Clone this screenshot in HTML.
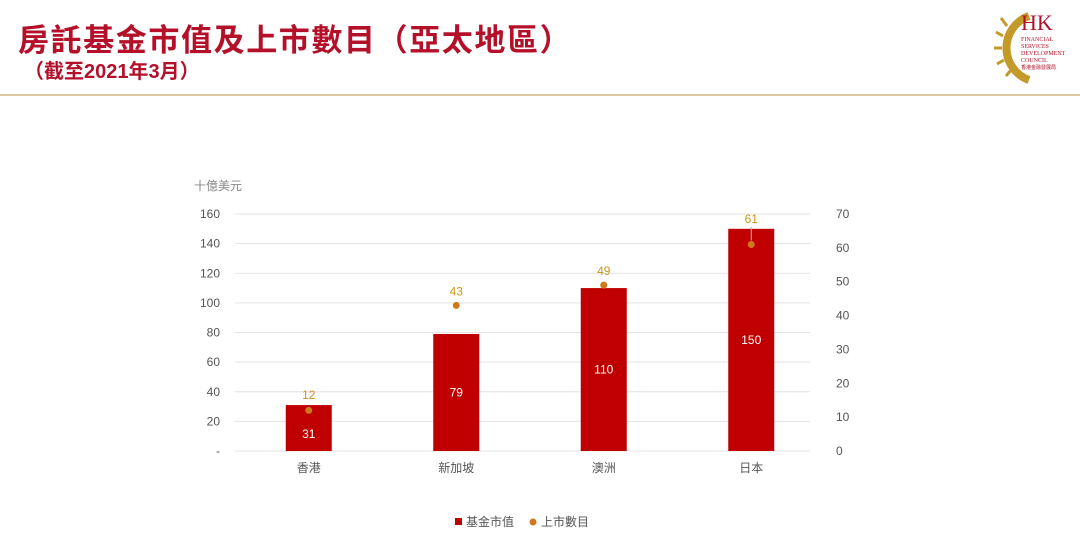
<!DOCTYPE html>
<html><head><meta charset="utf-8">
<style>
body{margin:0;width:1080px;height:553px;background:#fff;position:relative;overflow:hidden;font-family:"Liberation Sans","Noto Sans CJK TC",sans-serif}
.t{position:absolute;color:#b5102a;font-weight:bold;white-space:nowrap}
</style></head><body>
<div class="t" style="left:18px;top:15px;font-size:31px;letter-spacing:1.6px">房託基金市值及上市數目（亞太地區）</div>
<div class="t" style="left:24px;top:55px;font-size:20px">（截至2021年3月）</div>
<div style="position:absolute;left:0;top:94px;width:1080px;height:2px;background:#dcc89a"></div>
<div style="position:absolute;left:993px;top:6px;width:87px;height:78px">
<svg width="87" height="78"><path d="M36 10 A34 34 0 0 0 36 74" fill="none" stroke="#c39a2a" stroke-width="8"/>
<path d="M14 20 L8 12 M10 30 L3 26 M9 42 L1 42 M11 54 L4 58 M18 64 L13 70" stroke="#c39a2a" stroke-width="3"/>
<text x="28" y="24" font-family="Liberation Serif" font-size="22" fill="#b5102a">HK</text>
<text x="28" y="35" font-family="Liberation Serif" font-size="6" fill="#b5102a">FINANCIAL</text>
<text x="28" y="42" font-family="Liberation Serif" font-size="6" fill="#b5102a">SERVICES</text>
<text x="28" y="49" font-family="Liberation Serif" font-size="6" fill="#b5102a">DEVELOPMENT</text>
<text x="28" y="56" font-family="Liberation Serif" font-size="6" fill="#b5102a">COUNCIL</text>
<text x="28" y="63" font-size="5" fill="#b5102a">香港金融發展局</text></svg></div>
<svg id="c" width="1080" height="553" style="position:absolute;left:0;top:0"></svg>
<script>
const categories=["香港","新加坡","澳洲","日本"];
const marketCap=[31,79,110,150];
const listings=[12,43,49,61];
const leftTicks=[0,20,40,60,80,100,120,140,160];
const rightTicks=[0,10,20,30,40,50,60,70];
const svg=document.getElementById('c');const NS='http://www.w3.org/2000/svg';
const x0=235,x1=825,y0=451,y1=214,band=(x1-x0)/categories.length;
const yL=v=>y0-(v/160)*(y0-y1), yR=v=>y0-(v/70)*(y0-y1), xc=i=>x0+band*(i+0.5);
function el(t,a,txt){const e=document.createElementNS(NS,t);for(const k in a)e.setAttribute(k,a[k]);if(txt!==undefined)e.textContent=txt;svg.appendChild(e);return e;}
const ff='"Liberation Sans","Noto Sans CJK TC",sans-serif';
leftTicks.forEach(v=>{let g=el('line',{x1:x0,x2:x1-15,y1:yL(v),y2:yL(v),stroke:'#e3e3e3'});
let t=el('text',{x:220,y:yL(v)+4,'text-anchor':'end','font-size':12,fill:'#555','font-family':ff},v===0?'-':v);});
rightTicks.forEach(v=>{let t=el('text',{x:836,y:yR(v)+4,'font-size':12,fill:'#555','font-family':ff},v);});
let ut=el('text',{x:194,y:190,'font-size':12,fill:'#888','font-family':ff},'十億美元');
categories.forEach((c,i)=>{
let b=el('rect',{x:xc(i)-23,y:yL(marketCap[i]),width:46,height:y0-yL(marketCap[i]),fill:'#c00000'});
let bl=el('text',{x:xc(i),y:(yL(marketCap[i])+y0)/2+4+ (i==0?6:0),'text-anchor':'middle','font-size':12,fill:'#fff','font-family':ff},marketCap[i]);
let cl=el('text',{x:xc(i),y:472,'text-anchor':'middle','font-size':12,fill:'#555','font-family':ff},c);
let py=yR(listings[i]);
let d=el('circle',{cx:xc(i),cy:py,r:3.5,fill:'#d0791c'});
let ly=Math.min(py-10,yL(marketCap[i])-6);
if(ly<py-20){let ll=el('line',{x1:xc(i),x2:xc(i),y1:ly+4,y2:py-4,stroke:'#bbb'});}
let pl=el('text',{x:xc(i),y:ly,'text-anchor':'middle','font-size':12,fill:'#c9961a','font-family':ff},listings[i]);
});
let l1=el('rect',{x:455,y:518,width:7,height:7,fill:'#c00000'});
let l1t=el('text',{x:466,y:526,'font-size':12,fill:'#555','font-family':ff},'基金市值');
let l2=el('circle',{cx:533,cy:522,r:3.5,fill:'#d0791c'});
let l2t=el('text',{x:541,y:526,'font-size':12,fill:'#555','font-family':ff},'上市數目');
</script>
</body></html>
